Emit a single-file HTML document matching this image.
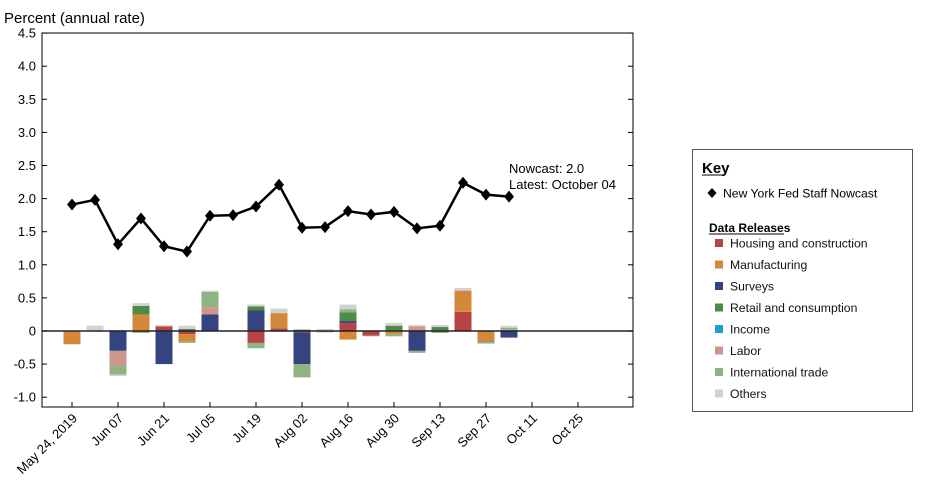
<!DOCTYPE html>
<html><head><meta charset="utf-8"><style>
body{margin:0;background:#fff;font-family:"Liberation Sans",Arial,sans-serif}
#wrap{position:relative;width:930px;height:477px}
svg text{font-family:"Liberation Sans",Arial,sans-serif}
</style></head><body>
<div id="wrap">
<svg id="c" width="930" height="477" xmlns="http://www.w3.org/2000/svg"></svg>
</div>
<script>
const dates=["May 24, 2019","May 31","Jun 07","Jun 14","Jun 21","Jun 28","Jul 05","Jul 12","Jul 19","Jul 26","Aug 02","Aug 09","Aug 16","Aug 23","Aug 30","Sep 06","Sep 13","Sep 20","Sep 27","Oct 04"];
const xTickLabels=["May 24, 2019","Jun 07","Jun 21","Jul 05","Jul 19","Aug 02","Aug 16","Aug 30","Sep 13","Sep 27","Oct 11","Oct 25"];
const yTicks=[-1.0,-0.5,0,0.5,1.0,1.5,2.0,2.5,3.0,3.5,4.0,4.5];
const nowcast=[1.91,1.98,1.31,1.70,1.28,1.20,1.74,1.75,1.88,2.21,1.56,1.57,1.81,1.76,1.80,1.55,1.59,2.24,2.06,2.03];
const categories=["Housing and construction","Manufacturing","Surveys","Retail and consumption","Income","Labor","International trade","Others"];
const colors=["#b94343","#d4893a","#344480","#4e8a4a","#1a9ed8","#d0958c","#8fb383","#d2d2d2"];
const housing=[-0.01,0,0,0,0.07,-0.05,0,0,-0.18,0.04,-0.02,0,0.12,-0.07,0,0,0,0.29,0,0];
const manufacturing=[-0.19,0,0,0.25,0,-0.11,0,0,0,0.23,0,0,-0.13,0,-0.05,0,0,0.32,-0.16,0];
const surveys=[0,0,-0.30,0,-0.50,0,0.25,0,0.31,0,-0.48,0,0.03,0,0,-0.30,0,0,0,-0.10];
const retail=[0,0,0.01,0.13,0,0.03,0,0,0.06,0,0.02,0,0.13,0,0.08,0,0.06,0,-0.01,0];
const income=[0,0,0,0,0,0,0,0,0,0,0,0,0,0,0,0,0,0,0,0];
const labor=[0,0,-0.22,0,0,0,0.11,0,0,0,0,0,0,0,0,0.07,0,0,0,0.02];
const intl=[0,0.01,-0.14,-0.03,0,-0.02,0.23,0.01,-0.08,0,-0.2,-0.02,0.05,-0.01,-0.03,-0.03,-0.03,0,-0.02,0.03];
const others=[0,0.07,-0.02,0.04,0.02,0.05,0.02,0,0.03,0.07,0.01,0.03,0.07,0,0.04,0.02,0.03,0.04,0.01,0.03];
const series=[housing,manufacturing,surveys,retail,income,labor,intl,others];

const NS="http://www.w3.org/2000/svg";
const svg=document.getElementById('c');
const L=42,R=633,T=33,B=407;
const x0=72,step=23;
function xs(i){return x0+i*step;}
function ys(v){return 331-v*66.2;}
function el(t,a,p){const e=document.createElementNS(NS,t);for(const k in a)e.setAttribute(k,a[k]);(p||svg).appendChild(e);return e;}

const title=el('text',{x:4,y:23,'font-size':15,fill:'#000'});title.textContent="Percent (annual rate)";



const bw=17;
dates.forEach((d,i)=>{
  let pos=0,neg=0;
  series.forEach((s,k)=>{
    const v=s[i]; if(!v) return;
    let y1,y2;
    if(v>0){y1=ys(pos+v);y2=ys(pos);pos+=v;}else{y1=ys(neg);y2=ys(neg+v);neg+=v;}
    const r=el('rect',{x:xs(i)-bw/2,y:y1,width:bw,height:Math.max(0.5,y2-y1),fill:colors[k]});
    
    
  });
});
const z=el('line',{x1:L,x2:R,y1:ys(0),y2:ys(0),stroke:'#222','stroke-width':1.5});



const fr=el('rect',{x:L,y:T,width:R-L,height:B-T,fill:'none',stroke:'#000','stroke-width':1});



yTicks.forEach(v=>{
  const y=ys(v);
  el('line',{x1:L,x2:L+5,y1:y,y2:y,stroke:'#000'});
  el('line',{x1:R-5,x2:R,y1:y,y2:y,stroke:'#000'});
  const t=el('text',{x:L-6,y:y+4.5,'font-size':13,'text-anchor':'end',fill:'#000'});
  t.textContent=v===0?"0":v.toFixed(1);
  
  
});
xTickLabels.forEach((lab,j)=>{
  const x=x0+j*2*step;
  el('line',{x1:x,x2:x,y1:B,y2:B-5,stroke:'#000'});
  const t=el('text',{x:x+6,y:B+12,'font-size':13,'text-anchor':'end',fill:'#000',transform:`rotate(-45 ${x+6} ${B+12})`});
  t.textContent=lab;
  
  
});

const pts=nowcast.map((v,i)=>xs(i)+','+ys(v)).join(' ');
const pl=el('polyline',{points:pts,fill:'none',stroke:'#000','stroke-width':2.5});


nowcast.forEach((v,i)=>{
  const x=xs(i),y=ys(v);
  const m=el('polygon',{points:`${x},${y-6} ${x+5},${y} ${x},${y+6} ${x-5},${y}`,fill:'#000'});
  
  
});
const a1=el('text',{x:509,y:173,'font-size':13});a1.textContent="Nowcast:  2.0";


const a2=el('text',{x:509,y:189,'font-size':13});a2.textContent="Latest: October 04";



const lg=el('g',{});


el('rect',{x:692.5,y:149.5,width:220,height:262,fill:'#fff',stroke:'#555','stroke-width':1},lg);
const kt=el('text',{x:702,y:173,'font-size':15,'font-weight':'bold'},lg);kt.textContent="Key";
el('line',{x1:702,x2:724,y1:175,y2:175,stroke:'#000'},lg);
el('polygon',{points:'712,188 716.5,193 712,198 707.5,193',fill:'#000'},lg);
const nk=el('text',{x:723,y:197.5,'font-size':12.2},lg);nk.textContent="New York Fed Staff Nowcast";


const dr=el('text',{x:709,y:232,'font-size':12,'font-weight':'bold'},lg);dr.textContent="Data Releases";
el('line',{x1:709,x2:784,y1:234,y2:234,stroke:'#000'},lg);
categories.forEach((c,k)=>{
  const y=243+k*21.5;
  el('rect',{x:715,y:y-4,width:8,height:8,fill:colors[k]},lg);
  const t=el('text',{x:730,y:y+4.5,'font-size':12.2,fill:'#111'},lg);t.textContent=c;
  
  
});
</script>
</body></html>
